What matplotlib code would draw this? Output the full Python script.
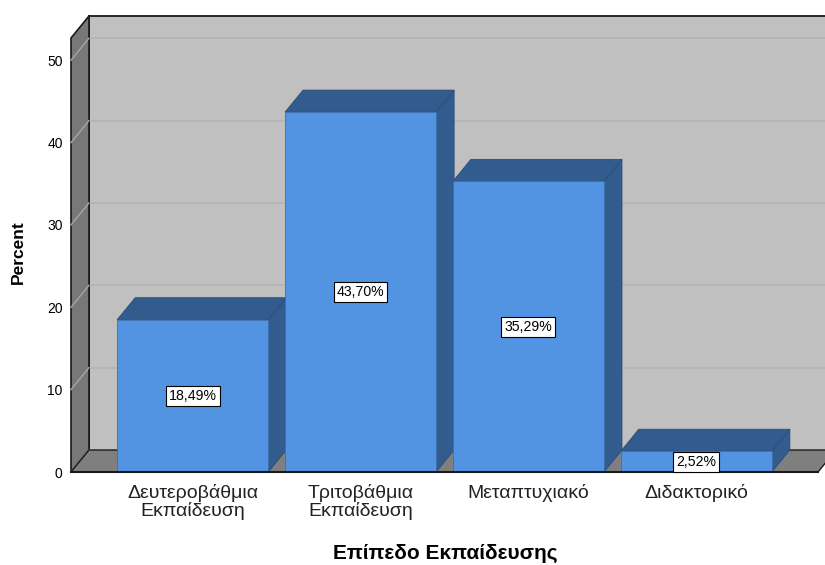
import matplotlib
matplotlib.use('Agg')
import matplotlib.pyplot as plt
from matplotlib.patches import Polygon, Rectangle
import numpy as np

categories = ['Δευτεροβάθμια\nΕκπαίδευση', 'Τριτοβάθμια\nΕκπαίδευση', 'Μεταπτυχιακό', 'Διδακτορικό']
percents = [18.49, 43.70, 35.29, 2.52]
value_labels = ['18,49%', '43,70%', '35,29%', '2,52%']
yticks = [0, 10, 20, 30, 40, 50]

plt.rcParams['font.family'] = ['Liberation Sans', 'DejaVu Sans']

W, H = 825, 565
fig = plt.figure(figsize=(W / 100, H / 100), dpi=100)
ax = fig.add_axes([71 / W, (H - 472) / H, 747 / W, (472 - 38) / H])
x = np.arange(len(categories))
ax.set_xlim(-0.725, 3.725)
ax.set_ylim(0, 52.7)
for s in ax.spines.values():
    s.set_visible(False)
ax.set_facecolor('none')

# depth offset (18 px right, 22 px up) expressed in data units
p0 = ax.transData.transform((0, 0))
ddx, ddy = ax.transData.inverted().transform(p0 + np.array([18, 22]))
x0, x1 = ax.get_xlim()
ytop = ax.get_ylim()[1]

# back wall
ax.add_patch(Polygon([(x0 + ddx, ddy), (x1 + ddx + 1, ddy), (x1 + ddx + 1, ytop + ddy),
                      (x0 + ddx, ytop + ddy)], closed=True, fc='#C0C0C0', ec='none',
                     zorder=0, clip_on=False))
for t in yticks[1:]:
    ax.plot([x0 + ddx, x1 + ddx + 1], [t + ddy, t + ddy], color='#b3b3b3', lw=1.2,
            zorder=0.5, clip_on=False)
ax.plot([x0 + ddx, x1 + ddx + 1], [ytop + ddy, ytop + ddy], color='#1a1a1a', lw=1.3,
        zorder=1, clip_on=False)
ax.plot([x0 + ddx, x0 + ddx], [ddy, ytop + ddy], color='#1a1a1a', lw=1.3,
        zorder=1, clip_on=False)

# left side wall
ax.add_patch(Polygon([(x0, 0), (x0, ytop), (x0 + ddx, ytop + ddy), (x0 + ddx, ddy)],
                     closed=True, fc='#787878', ec='#1a1a1a', lw=1.2, zorder=1, clip_on=False))
for t in yticks:
    ax.plot([x0, x0 + ddx], [t, t + ddy], color='#a6a6a6', lw=1.0, zorder=1.5, clip_on=False)

# floor
ax.add_patch(Polygon([(x0, 0), (x1, 0), (x1 + ddx, ddy), (x0 + ddx, ddy)],
                     closed=True, fc='#7f7f7f', ec='#1a1a1a', lw=1.0, zorder=2, clip_on=False))

# bars
w = 0.9
front_c = '#5394E2'
dark_c = '#335C8E'
for i, v in enumerate(percents):
    xl, xr = x[i] - w / 2, x[i] + w / 2
    z = 3 + i
    ax.add_patch(Polygon([(xr, 0), (xr, v), (xr + ddx, v + ddy), (xr + ddx, ddy)],
                         closed=True, fc=dark_c, ec='#2a4c77', lw=0.6, zorder=z, clip_on=False))
    ax.add_patch(Polygon([(xl, v), (xr, v), (xr + ddx, v + ddy), (xl + ddx, v + ddy)],
                         closed=True, fc=dark_c, ec='#2a4c77', lw=0.6, zorder=z, clip_on=False))
    ax.add_patch(Rectangle((xl, 0), w, v, fc=front_c, ec='#3d6fae', lw=0.6, zorder=z,
                           clip_on=False))
    ax.text(x[i], v / 2, value_labels[i], ha='center', va='center', fontsize=10.2, zorder=20,
            bbox=dict(boxstyle='square,pad=0.22', fc='white', ec='black', lw=0.8))

# front baseline
ax.plot([x0, x1], [0, 0], color='#1a1a1a', lw=1.5, zorder=15, clip_on=False)

ax.set_yticks(yticks)
ax.set_yticklabels([str(t) for t in yticks], fontsize=10)
ax.tick_params(axis='y', length=0, pad=6)
ax.set_xticks(x)
ax.set_xticklabels(categories, fontsize=14, linespacing=0.95)
ax.tick_params(axis='x', length=0, pad=9)
for lab in ax.get_xticklabels():
    lab.set_color('#222222')

fig.text(18 / W, 1 - 252 / H, 'Percent', rotation=90, fontsize=12.5, fontweight='bold',
         ha='center', va='center')
fig.text(445 / W, 1 - 553 / H, 'Επίπεδο Εκπαίδευσης', fontsize=15, fontweight='bold',
         ha='center', va='center')

fig.savefig('out.png', dpi=100)
